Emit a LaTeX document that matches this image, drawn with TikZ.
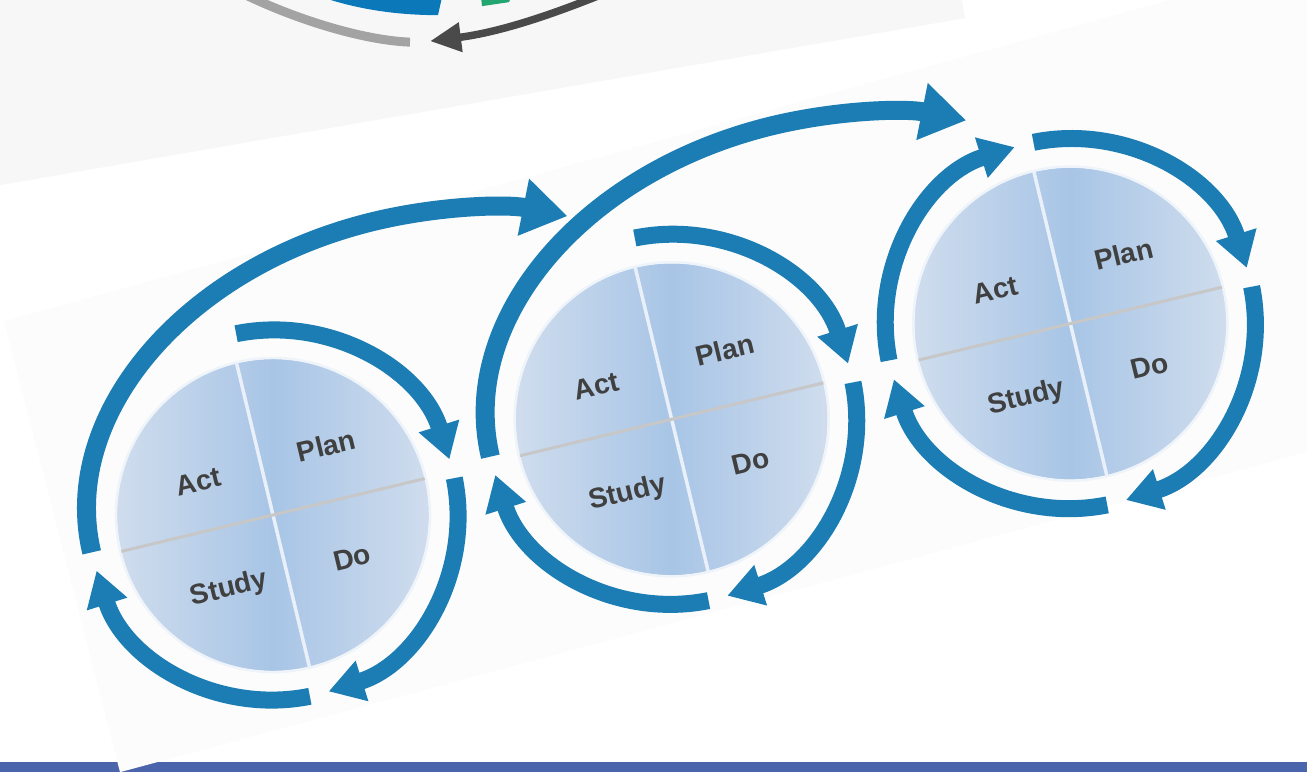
\documentclass[tikz,border=0pt]{standalone}
\usepackage{fontspec}
\setsansfont{Liberation Sans}
\usetikzlibrary{arrows.meta}

\definecolor{ringblue}{HTML}{1B7DB3}
\definecolor{barblue}{HTML}{4A65AC}
\definecolor{panelgray}{HTML}{F7F7F7}
\definecolor{paper}{HTML}{FCFCFC}
\definecolor{diskhi}{HTML}{D3DFEE}
\definecolor{disklo}{HTML}{A8C5E6}
\definecolor{labelgray}{HTML}{404040}
\definecolor{topblue}{HTML}{0B78BA}
\definecolor{topgreen}{HTML}{22A56F}
\definecolor{arcgray}{HTML}{A3A3A3}
\definecolor{arrowgray}{HTML}{4A4A4A}

\tikzset{
	ring/.style={ringblue, line width=0.34cm, -{Triangle[width=0.8cm, length=0.7cm]}},
	bridge/.style={ringblue, line width=0.38cm, -{Triangle[width=1.1cm, length=0.9cm]}},
	phase/.style={font={\sffamily\bfseries\fontsize{16}{16}\selectfont}, text=labelgray, transform shape, inner sep=0pt},
	divv/.style={white!75!disklo, line width=0.07cm},
	divh/.style={black!22!white, line width=0.06cm},
}

\begin{document}
\begin{tikzpicture}[x=0.02cm, y=0.02cm]
	\useasboundingbox (0,0) rectangle (1307,772);
	\clip (0,0) rectangle (1307,772);
	
	% pixel coordinates, measured from the top
	\begin{scope}[yshift=15.44cm, yscale=-1]
		\fill[panelgray] (0,0) -- (962,0) -- (965,18) -- (0,185) -- cycle;
		\draw[arcgray, line width=0.18cm] (240,-8) .. controls (290,17) and (360,40) .. (410,42);
		\fill[topblue] (322,-3) .. controls (360,10) and (400,15) .. (438,15) -- (442,-3) -- cycle;
		\fill[topgreen] (481,-3) -- (482,6) -- (509,2) -- (511,-3) -- cycle;
		\draw[arrowgray, line width=0.15cm, -{Triangle[width=0.56cm, length=0.62cm]}] (600,-5) .. controls (550,15) and (500,32) .. (430,41);
		\fill[barblue] (0,762) rectangle (1307,772);
		\fill[paper] (4,321) -- (120,772) -- (1307,452) -- (1307,-38) -- cycle;
	\end{scope}
	
	\begin{scope}[shift={(273,257)}, rotate=13.5]
		\foreach \i/\cx in {1/0, 2/410, 3/820} {
			\begin{scope}[shift={(\cx,0)}]
				\shade[left color=diskhi, right color=diskhi, middle color=disklo] (0,0) circle[radius=156];
				\draw[white!80!disklo, line width=0.05cm] (0,0) circle[radius=157];
				\draw[divv] (90:156) -- (-90:156);
				\draw[divh] (180:156) -- (0:156);
				\draw[ring] (88:185) arc[start angle=88, end angle=4, radius=185];
				\draw[ring] (-2:185) arc[start angle=-2, end angle=-86, radius=185];
				\draw[ring] (-92:185) arc[start angle=-92, end angle=-176, radius=185];
				\node[phase] (act\i) at (-65,50) {Act};
				\node[phase] (plan\i) at (68,55) {Plan};
				\node[phase] (study\i) at (-60,-62) {Study};
				\node[phase] (do\i) at (67,-60) {Do};
			\end{scope}
		}
		\foreach \cx in {0, 410} {
			\draw[bridge] (\cx,0) ++(-185,6) arc[start angle=180, end angle=57.5, x radius=352, y radius=256];
		}
		\draw[ring] (820,0) ++(178:185) arc[start angle=178, end angle=94, radius=185];
	\end{scope}
\end{tikzpicture}
\end{document}
